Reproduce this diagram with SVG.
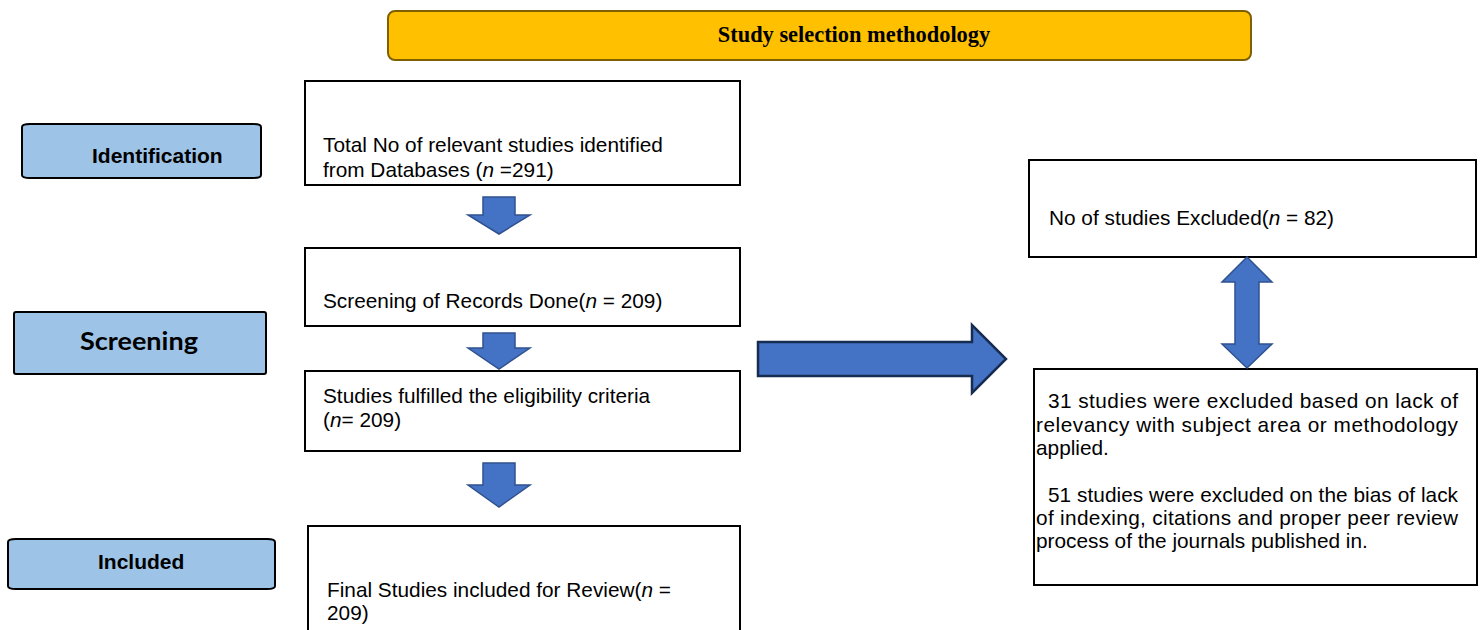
<svg xmlns="http://www.w3.org/2000/svg" width="1484" height="630" viewBox="0 0 1484 630">
<style>
.box{fill:#ffffff;stroke:#000000;stroke-width:2}
.stage{fill:#9DC3E6;stroke:#000000;stroke-width:2}
.t{font-family:"Liberation Sans",Arial,sans-serif;font-size:20.8px;fill:#000000}
.lab{font-family:"Liberation Sans",Arial,sans-serif;font-size:21px;font-weight:bold;fill:#000000}
.arr{fill:#4472C4;stroke:#2F528F;stroke-width:1.5;stroke-linejoin:miter}
.big{fill:#4472C4;stroke:#172C51;stroke-width:2.5}
</style>
<rect width="1484" height="630" fill="#ffffff"/>
<g id="title">
<rect x="388" y="11" width="863" height="49" rx="7" fill="#FFC000" stroke="#7F6000" stroke-width="2"/>
<text x="854" y="42" text-anchor="middle" font-family="'Liberation Serif','Times New Roman',serif" font-size="22.4" font-weight="bold">Study selection methodology</text>
</g>
<g id="identification">
<path class="stage" d="M22,127 Q22,124 30,124 L253,124 Q261,124 261,127 L261,175 Q261,178 253,178 L30,178 Q22,178 22,175 Z"/>
<text class="lab" x="92" y="163">Identification</text>
</g>
<g id="screening">
<rect class="stage" x="14" y="312" width="252" height="62" rx="2"/>
<text x="80" y="350" font-family="Lato,'Open Sans',sans-serif" font-size="25" font-weight="bold" textLength="118" lengthAdjust="spacingAndGlyphs">Screening</text>
</g>
<g id="included">
<path class="stage" d="M8,542 Q8,539 16,539 L267,539 Q275,539 275,542 L275,586 Q275,589 267,589 L16,589 Q8,589 8,586 Z"/>
<text class="lab" x="98" y="569">Included</text>
</g>
<g id="identified">
<rect class="box" x="305" y="81" width="435" height="104"/>
<text class="t" x="323" y="152">Total No of relevant studies identified</text>
<text class="t" x="323" y="177">from Databases (<tspan font-style="italic">n</tspan> =291)</text>
</g>
<g id="screened">
<rect class="box" x="305" y="248" width="435" height="78"/>
<text class="t" x="323" y="308">Screening of Records Done(<tspan font-style="italic">n</tspan> = 209)</text>
</g>
<g id="eligible">
<rect class="box" x="305" y="371" width="435" height="80"/>
<text class="t" x="323" y="403">Studies fulfilled the eligibility criteria</text>
<text class="t" x="323" y="427">(<tspan font-style="italic">n</tspan>= 209)</text>
</g>
<g id="final">
<rect class="box" x="308" y="526" width="432" height="110"/>
<text class="t" x="327" y="597">Final Studies included for Review(<tspan font-style="italic">n</tspan> =</text>
<text class="t" x="327" y="620">209)</text>
</g>
<g id="excluded">
<rect class="box" x="1029" y="160" width="447" height="97"/>
<text class="t" x="1049" y="225">No of studies Excluded(<tspan font-style="italic">n</tspan> = 82)</text>
</g>
<g id="reasons">
<rect class="box" x="1034" y="369" width="443" height="216"/>
<text class="t" x="1048" y="408" textLength="410" lengthAdjust="spacing">31 studies were excluded based on lack of</text>
<text class="t" x="1036" y="432" textLength="422" lengthAdjust="spacing">relevancy with subject area or methodology</text>
<text class="t" x="1036" y="455">applied.</text>
<text class="t" x="1048" y="502" textLength="410" lengthAdjust="spacing">51 studies were excluded on the bias of lack</text>
<text class="t" x="1036" y="525" textLength="422" lengthAdjust="spacing">of indexing, citations and proper peer review</text>
<text class="t" x="1036" y="548">process of the journals published in.</text>
</g>
<g id="connectors">
<path class="arr" d="M483,197 L515,197 L515,215 L530,215 L499,234 L468,215 L483,215 Z"/>
<path class="arr" d="M483,333 L515,333 L515,348 L530,348 L499,369 L468,348 L483,348 Z"/>
<path class="arr" d="M483,463 L515,463 L515,485 L530,485 L499,507 L468,485 L483,485 Z"/>
<path class="big" d="M758,342 L972,342 L972,325 L1006,359 L972,393 L972,376 L758,376 Z"/>
<path class="arr" d="M1247,257 L1272,282 L1259,282 L1259,344 L1272,344 L1247,368 L1222,344 L1235,344 L1235,282 L1222,282 Z"/>
</g>
</svg>
